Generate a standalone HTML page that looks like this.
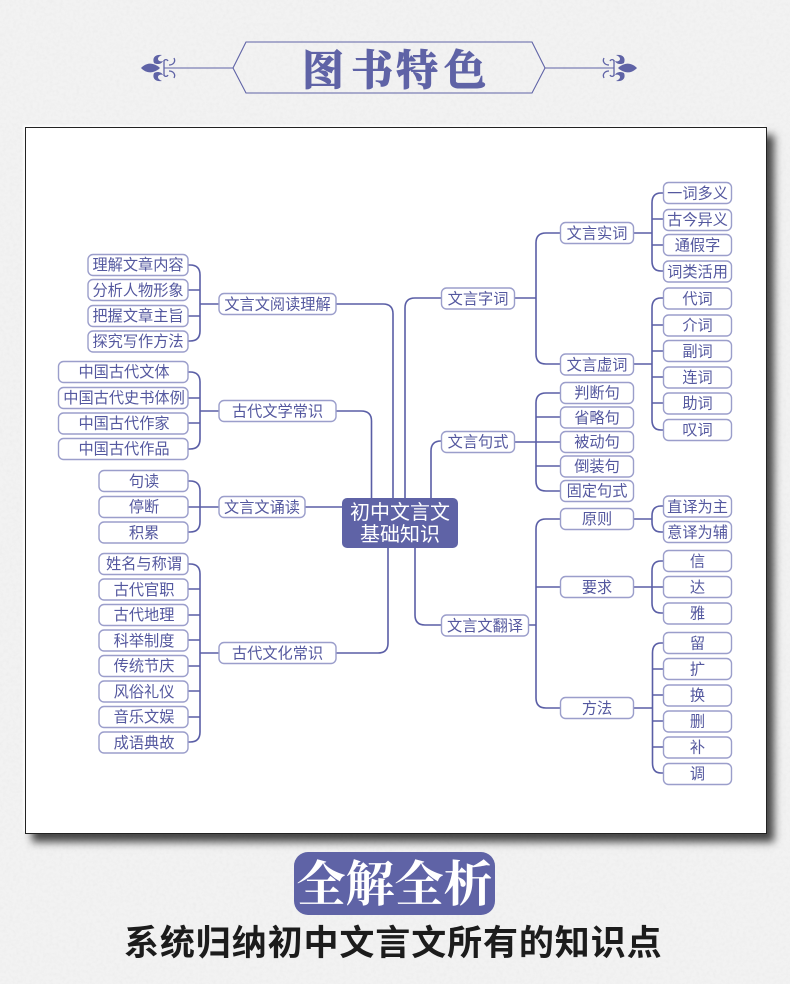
<!DOCTYPE html>
<html lang="zh"><head><meta charset="utf-8"><title>图书特色</title>
<style>
html,body{margin:0;padding:0}
body{width:790px;height:984px;overflow:hidden;background:#f2f2f2;position:relative}
svg{position:absolute;left:0;top:0}
#panel{position:absolute;left:24.500px;top:126.500px;width:740px;height:705px;background:#fff;border:1.500px solid #222;box-shadow:-2px -2px 2px rgba(255,255,255,.8),7px 8px 8px rgba(0,0,0,.72)}
.n{fill:#fff;stroke:#9b9ecb;stroke-width:1.4}
.c{fill:none;stroke:#5a5ea6;stroke-width:1.6}
.t{font:15.200px "Liberation Sans","Noto Sans CJK SC",sans-serif;fill:#54589f;text-anchor:middle}
</style></head><body>
<svg width="790" height="984" style="opacity:.28"><filter id="p"><feTurbulence type="fractalNoise" baseFrequency=".3" numOctaves="3" seed="4"/><feColorMatrix values="0 0 0 0 .55 0 0 0 0 .55 0 0 0 0 .55 .5 .5 0 0 -.42"/></filter><rect width="790" height="984" filter="url(#p)"/></svg>
<div id="panel"></div>
<svg width="790" height="984" viewBox="0 0 790 984">
<!-- header -->
<path d="M233 68 246 42H532L545 68 532 93H246Z" fill="none" stroke="#5f63a6" stroke-width="1.1"/>
<path d="M164 68H233M545 68H614" stroke="#5f63a6" stroke-width="1.1"/>
<g id="f1">
<g fill="#5f63a6">
<path d="M141 68C145 64 149 63 153 64 156 65 158 66 160 68 158 70 156 71 153 72 149 73 145 72 141 68Z"/>
<path d="M154 63C152 58 155 54 162 55 160 56 158 57 158 59 158 61 161 62 163 61 162 64 157 65 154 63Z"/>
<path d="M154 73C152 78 155 82 162 81 160 80 158 79 158 77 158 75 161 74 163 75 162 72 157 71 154 73Z"/>
</g>
<path d="M164 60V76M164 62c0-3 3-3 4-1M164 74c0 3 3 3 4 1M169 65c4 0 7-3 5-7M169 71c4 0 7 3 5 7" fill="none" stroke="#5f63a6" stroke-width="1.300"/>
</g>
<g transform="translate(778,0) scale(-1,1)">
<g fill="#5f63a6">
<path d="M141 68C145 64 149 63 153 64 156 65 158 66 160 68 158 70 156 71 153 72 149 73 145 72 141 68Z"/>
<path d="M154 63C152 58 155 54 162 55 160 56 158 57 158 59 158 61 161 62 163 61 162 64 157 65 154 63Z"/>
<path d="M154 73C152 78 155 82 162 81 160 80 158 79 158 77 158 75 161 74 163 75 162 72 157 71 154 73Z"/>
</g>
<path d="M164 60V76M164 62c0-3 3-3 4-1M164 74c0 3 3 3 4 1M169 65c4 0 7-3 5-7M169 71c4 0 7 3 5 7" fill="none" stroke="#5f63a6" stroke-width="1.300"/>
</g>
<text x="302 351 396 444" y="85" font-family="'Liberation Serif','Noto Serif CJK SC',serif" font-weight="700" font-size="42" fill="#5f63a6" stroke="#5f63a6" stroke-width="1">图书特色</text>

<!-- connectors -->
<path class="c" d="M342 507H305M336 304H383Q393 304 393 314V498M336 411H361Q371.500 411 371.500 421V498M336 653H378Q388 653 388 643V548M441 298H415Q405 298 405 308V498M441 441H441Q431 441 431 451V498M441 625H425Q415 625 415 615V548"/>
<path class="c" d="M188 265H190Q200 265 200 275V331Q200 341 190 341H188M188 290H200M188 316H200M200 304H219"/>
<path class="c" d="M188 372H190Q200 372 200 382V439Q200 449 190 449H188M188 398H200M188 423H200M200 411H219"/>
<path class="c" d="M188 481H190Q200 481 200 491V522Q200 532 190 532H188M188 507H219"/>
<path class="c" d="M188 564H190Q200 564 200 574V732Q200 742 190 742H188M188 589H200M188 615H200M188 640H200M188 666H200M188 691H200M188 717H200M200 653H219"/>
<path class="c" d="M560 233H546Q536 233 536 243V354Q536 364 546 364H560M515 298H536"/>
<path class="c" d="M663 193H661Q652 193 652 203V261Q652 271 661 271H663M652 219H663M652 245H663M634 233H652"/>
<path class="c" d="M663 298H661Q652 298 652 308V420Q652 430 661 430H663M652 325H663M652 351H663M652 377H663M652 403H663M634 364H652"/>
<path class="c" d="M560 393H546Q536 393 536 403V481Q536 491 546 491H560M536 417H560M536 466H560M515 442H560"/>
<path class="c" d="M560 519H546Q536 519 536 529V698Q536 708 546 708H560M536 587H560M528 625H536"/>
<path class="c" d="M663 506H661Q652 506 652 516V522Q652 532 661 532H663M634 519H652"/>
<path class="c" d="M663 561H661Q652 561 652 571V603Q652 613 661 613H663M634 587H663"/>
<path class="c" d="M663 643H661Q652.500 643 652.500 653V763Q652.500 773 661 773H663M652 669H663M652 695H663M652 721H663M652 747H663M634 708H652"/>

<!-- root -->
<rect x="342" y="498" width="116" height="50" rx="5" fill="#5f63a6"/>
<text x="400" y="519" font-family="'Liberation Sans','Noto Sans CJK SC',sans-serif" font-size="20" fill="#fff" text-anchor="middle">初中文言文</text>
<text x="400" y="541" font-family="'Liberation Sans','Noto Sans CJK SC',sans-serif" font-size="20" fill="#fff" text-anchor="middle">基础知识</text>

<!-- left leaves -->
<rect class="n" x="88" y="254.500" width="100" height="21" rx="5"/><text class="t" x="138" y="270">理解文章内容</text>
<rect class="n" x="88" y="279.500" width="100" height="21" rx="5"/><text class="t" x="138" y="295.500">分析人物形象</text>
<rect class="n" x="88" y="305.500" width="100" height="21" rx="5"/><text class="t" x="138" y="321">把握文章主旨</text>
<rect class="n" x="88" y="331" width="100" height="21" rx="5"/><text class="t" x="138" y="346.500">探究写作方法</text>

<rect class="n" x="58.500" y="361.500" width="129.500" height="21" rx="5"/><text class="t" x="124" y="377">中国古代文体</text>
<rect class="n" x="58.500" y="387.500" width="129.500" height="21" rx="5"/><text class="t" x="124" y="403">中国古代史书体例</text>
<rect class="n" x="58.500" y="413" width="129.500" height="21" rx="5"/><text class="t" x="124" y="428.500">中国古代作家</text>
<rect class="n" x="58.500" y="438.500" width="129.500" height="21" rx="5"/><text class="t" x="124" y="454">中国古代作品</text>

<rect class="n" x="99" y="470.500" width="89" height="21" rx="5"/><text class="t" x="144" y="486.500">句读</text>
<rect class="n" x="99" y="496.500" width="89" height="21" rx="5"/><text class="t" x="144" y="512">停断</text>
<rect class="n" x="99" y="522" width="89" height="21" rx="5"/><text class="t" x="144" y="538">积累</text>

<rect class="n" x="99" y="553.500" width="89" height="21" rx="5"/><text class="t" x="144" y="569">姓名与称谓</text>
<rect class="n" x="99" y="579" width="89" height="21" rx="5"/><text class="t" x="144" y="595">古代官职</text>
<rect class="n" x="99" y="604.500" width="89" height="21" rx="5"/><text class="t" x="144" y="620">古代地理</text>
<rect class="n" x="99" y="630" width="89" height="21" rx="5"/><text class="t" x="144" y="646">科举制度</text>
<rect class="n" x="99" y="655.500" width="89" height="21" rx="5"/><text class="t" x="144" y="671">传统节庆</text>
<rect class="n" x="99" y="681" width="89" height="21" rx="5"/><text class="t" x="144" y="697">风俗礼仪</text>
<rect class="n" x="99" y="706.500" width="89" height="21" rx="5"/><text class="t" x="144" y="722">音乐文娱</text>
<rect class="n" x="99" y="732" width="89" height="21" rx="5"/><text class="t" x="144" y="748">成语典故</text>

<!-- left mids -->
<rect class="n" x="219" y="293.500" width="117" height="21" rx="5"/><text class="t" x="277.500" y="309.500">文言文阅读理解</text>
<rect class="n" x="219" y="400.500" width="117" height="21" rx="5"/><text class="t" x="277.500" y="416.500">古代文学常识</text>
<rect class="n" x="219" y="496.500" width="86" height="21" rx="5"/><text class="t" x="262" y="512.500">文言文诵读</text>
<rect class="n" x="219" y="642.500" width="117" height="21" rx="5"/><text class="t" x="277.500" y="658.500">古代文化常识</text>

<!-- right mids -->
<rect class="n" x="441.500" y="288" width="73" height="21" rx="5"/><text class="t" x="478" y="304">文言字词</text>
<rect class="n" x="441.500" y="431.500" width="73" height="21" rx="5"/><text class="t" x="478" y="447">文言句式</text>
<rect class="n" x="441.500" y="615" width="87" height="21" rx="5"/><text class="t" x="485" y="631">文言文翻译</text>

<rect class="n" x="560.500" y="222.500" width="73" height="21" rx="5"/><text class="t" x="597" y="238.500">文言实词</text>
<rect class="n" x="560.500" y="354" width="73" height="21" rx="5"/><text class="t" x="597" y="370">文言虚词</text>
<rect class="n" x="560.500" y="382.500" width="73" height="21" rx="5"/><text class="t" x="597" y="398">判断句</text>
<rect class="n" x="560.500" y="407" width="73" height="21" rx="5"/><text class="t" x="597" y="423">省略句</text>
<rect class="n" x="560.500" y="431.500" width="73" height="21" rx="5"/><text class="t" x="597" y="447">被动句</text>
<rect class="n" x="560.500" y="456" width="73" height="21" rx="5"/><text class="t" x="597" y="471.500">倒装句</text>
<rect class="n" x="560.500" y="480.500" width="73" height="21" rx="5"/><text class="t" x="597" y="496">固定句式</text>
<rect class="n" x="560.500" y="508.500" width="73" height="21" rx="5"/><text class="t" x="597" y="524">原则</text>
<rect class="n" x="560.500" y="576.500" width="73" height="21" rx="5"/><text class="t" x="597" y="592.500">要求</text>
<rect class="n" x="560.500" y="697.500" width="73" height="21" rx="5"/><text class="t" x="597" y="713.500">方法</text>

<!-- right leaves -->
<rect class="n" x="663.500" y="182.500" width="68" height="21" rx="5"/><text class="t" x="697.500" y="198.500">一词多义</text>
<rect class="n" x="663.500" y="209.500" width="68" height="21" rx="5"/><text class="t" x="697.500" y="225">古今异义</text>
<rect class="n" x="663.500" y="234.500" width="68" height="21" rx="5"/><text class="t" x="697.500" y="250.500">通假字</text>
<rect class="n" x="663.500" y="261" width="68" height="21" rx="5"/><text class="t" x="697.500" y="277">词类活用</text>
<rect class="n" x="663.500" y="288" width="68" height="21" rx="5"/><text class="t" x="697.500" y="304">代词</text>
<rect class="n" x="663.500" y="315" width="68" height="21" rx="5"/><text class="t" x="697.500" y="330.500">介词</text>
<rect class="n" x="663.500" y="340.500" width="68" height="21" rx="5"/><text class="t" x="697.500" y="356.500">副词</text>
<rect class="n" x="663.500" y="367" width="68" height="21" rx="5"/><text class="t" x="697.500" y="382.500">连词</text>
<rect class="n" x="663.500" y="393" width="68" height="21" rx="5"/><text class="t" x="697.500" y="408.500">助词</text>
<rect class="n" x="663.500" y="419.500" width="68" height="21" rx="5"/><text class="t" x="697.500" y="435">叹词</text>
<rect class="n" x="663.500" y="496" width="68" height="21" rx="5"/><text class="t" x="697.500" y="512">直译为主</text>
<rect class="n" x="663.500" y="521.500" width="68" height="21" rx="5"/><text class="t" x="697.500" y="537.500">意译为辅</text>
<rect class="n" x="663.500" y="550.500" width="68" height="21" rx="5"/><text class="t" x="697.500" y="566.500">信</text>
<rect class="n" x="663.500" y="576.500" width="68" height="21" rx="5"/><text class="t" x="697.500" y="592.500">达</text>
<rect class="n" x="663.500" y="603" width="68" height="21" rx="5"/><text class="t" x="697.500" y="618.500">雅</text>
<rect class="n" x="663.500" y="632.500" width="68" height="21" rx="5"/><text class="t" x="697.500" y="648.500">留</text>
<rect class="n" x="663.500" y="658.500" width="68" height="21" rx="5"/><text class="t" x="697.500" y="674.500">扩</text>
<rect class="n" x="663.500" y="685" width="68" height="21" rx="5"/><text class="t" x="697.500" y="700.500">换</text>
<rect class="n" x="663.500" y="711" width="68" height="21" rx="5"/><text class="t" x="697.500" y="726.500">删</text>
<rect class="n" x="663.500" y="737" width="68" height="21" rx="5"/><text class="t" x="697.500" y="752.500">补</text>
<rect class="n" x="663.500" y="763.500" width="68" height="21" rx="5"/><text class="t" x="697.500" y="779">调</text>

<!-- footer -->
<rect x="294" y="852" width="201" height="63" rx="14" fill="#5f63a6"/>
<text x="394.500" y="901" font-family="'Liberation Serif','Noto Serif CJK SC',serif" font-weight="700" font-size="49" fill="#fff" text-anchor="middle">全解全析</text>
<text x="124" y="955" font-family="'Liberation Sans','Noto Sans CJK SC',sans-serif" font-weight="700" font-size="35" letter-spacing="0.900" fill="#1c1c1c">系统归纳初中文言文所有的知识点</text>
</svg>
</body></html>
